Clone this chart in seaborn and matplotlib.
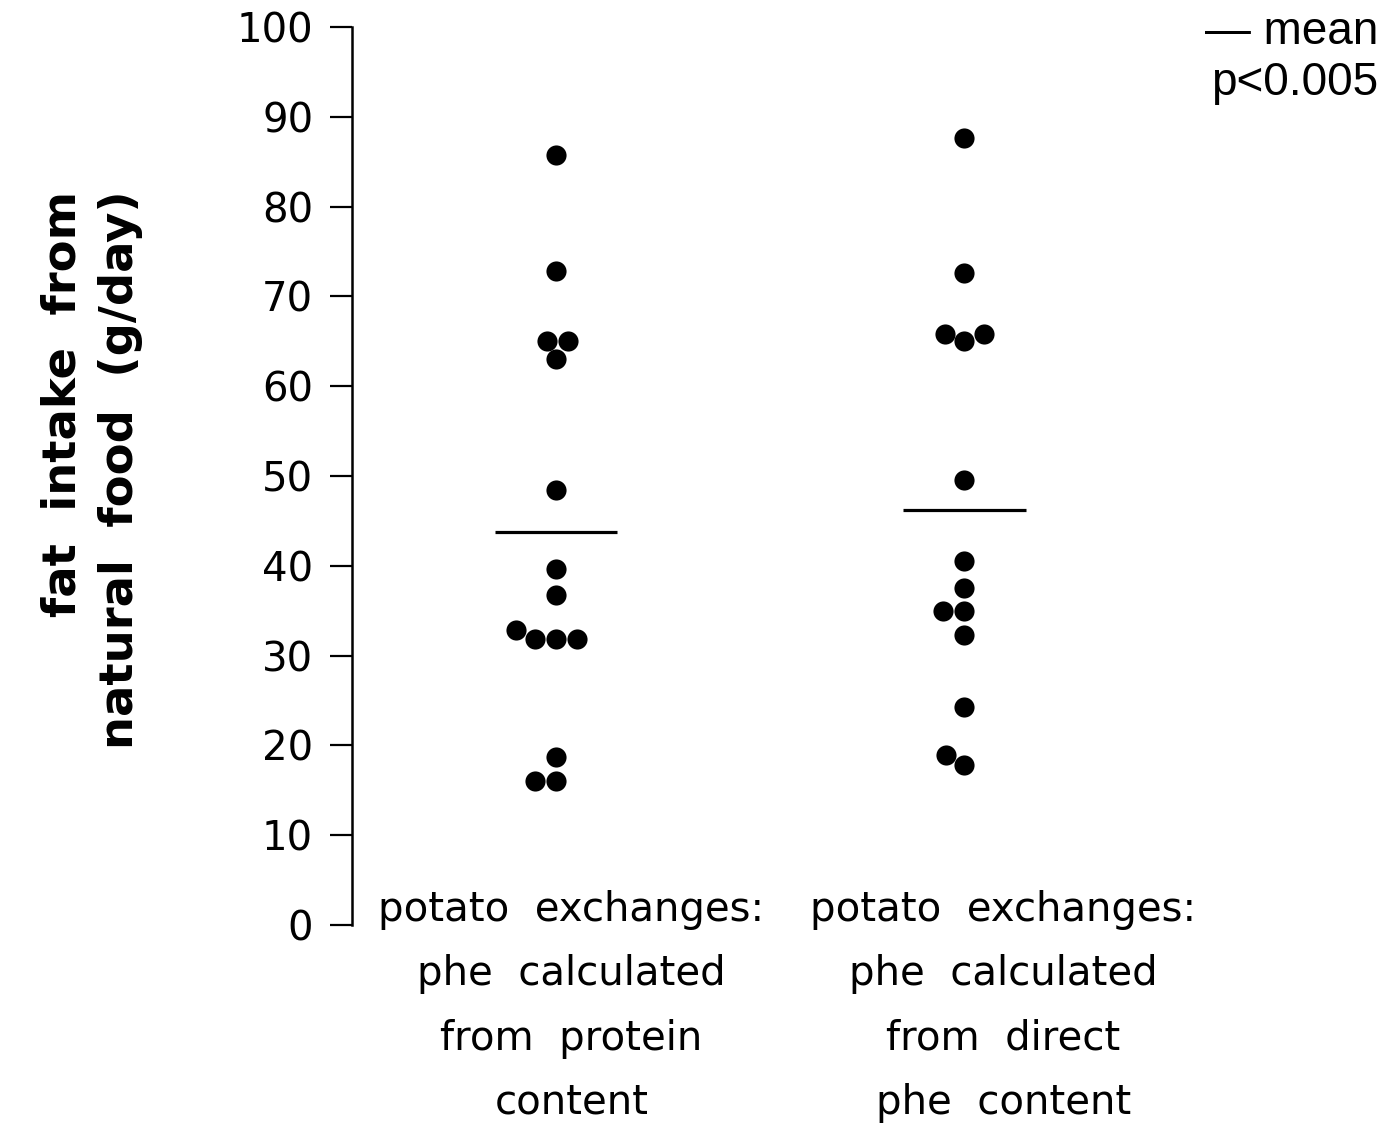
import matplotlib
matplotlib.use("Agg")
import matplotlib.pyplot as plt
import seaborn as sns
import pandas as pd
import numpy as np

# ---- data ----
categories = [
    "potato  exchanges:\nphe  calculated\nfrom  protein\ncontent",
    "potato  exchanges:\nphe  calculated\nfrom  direct\nphe  content",
]
protein_based = [85.8, 72.8, 65.0, 65.0, 63.0, 48.4, 39.7, 36.8, 32.9,
                 31.9, 31.9, 31.9, 18.7, 16.0, 16.0]
direct_based = [87.6, 72.6, 65.8, 65.8, 65.0, 49.6, 40.5, 37.5, 35.0,
                35.0, 32.3, 24.3, 18.9, 17.8]
y_ticks = [0, 10, 20, 30, 40, 50, 60, 70, 80, 90, 100]
y_label = "fat  intake  from\nnatural  food  (g/day)"
legend_text = "\u2014 mean\np<0.005"

df = pd.DataFrame({
    "group": [categories[0]] * len(protein_based) + [categories[1]] * len(direct_based),
    "fat": protein_based + direct_based,
})

sns.set_theme(style="white")
plt.rcParams["font.family"] = ["DejaVu Sans"]
plt.rcParams["text.color"] = "black"
plt.rcParams["axes.labelcolor"] = "black"
plt.rcParams["xtick.color"] = "black"
plt.rcParams["ytick.color"] = "black"

fig = plt.figure(figsize=(13.86, 11.26), dpi=100)
ax = fig.add_axes([0.254, 0.1785, 0.55, 0.7975])

sns.swarmplot(data=df, x="group", y="fat", order=categories, color="black",
              size=14.5, ax=ax, linewidth=0)

# mean lines
means = df.groupby("group", sort=False)["fat"].mean().reindex(categories)
for i, m in enumerate(means.values):
    ax.hlines(m, i - 0.15, i + 0.15, color="black", lw=2.3)

ax.set_ylim(0, 100)
ax.set_xlim(-0.5, -0.5 + 762 / 408)
ax.set_yticks(y_ticks)
ax.set_yticklabels([str(t) for t in y_ticks], fontsize=29, color="black")
ax.tick_params(axis="y", direction="out", length=16, width=1.6, pad=12,
               left=True, colors="black")
ax.set_xticks([])
ax.set_xlabel("")
ax.set_ylabel("")
for s in ["top", "right", "bottom"]:
    ax.spines[s].set_visible(False)
ax.spines["left"].set_linewidth(1.8)
ax.spines["left"].set_color("black")

# category labels below the axis
label_dx = [11, 28]
for i, lab in enumerate(categories):
    ax.annotate(lab, xy=(i, 0), xycoords="data", xytext=(label_dx[i], 25),
                textcoords="offset points", ha="center", va="top",
                multialignment="center", fontsize=29, linespacing=1.78,
                color="black", annotation_clip=False)

fig.text(92 / 1386, 1 - 470 / 1126, y_label, rotation=90, ha="center",
         va="center", multialignment="right", fontsize=33.5, fontweight="bold",
         family=["DejaVu Sans"], linespacing=1.35, color="black")

fig.text(1378 / 1386, 1 - 10 / 1126, legend_text, ha="right", va="top",
         multialignment="right", fontsize=33, family=["Liberation Sans"],
         linespacing=1.22, color="black")

fig.savefig("out.png", dpi=100, facecolor="white")
